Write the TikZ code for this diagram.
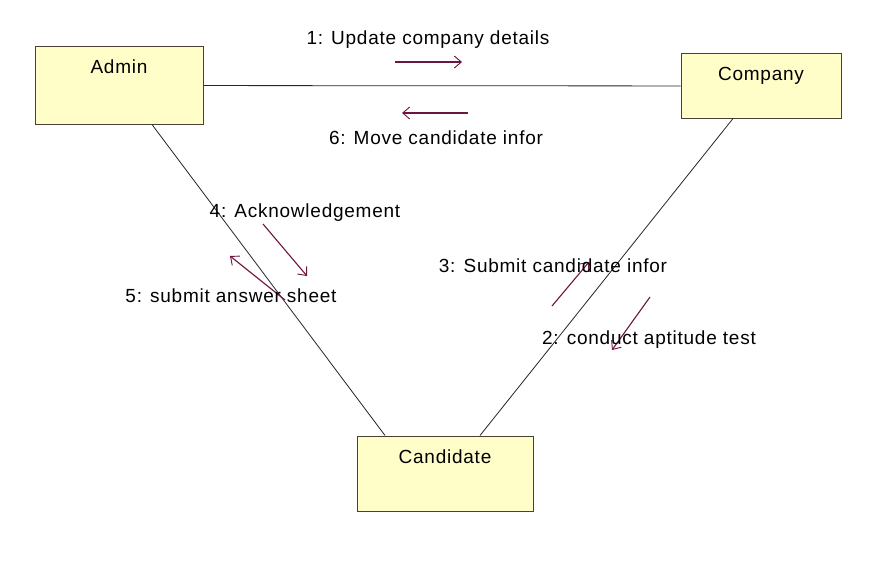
\documentclass[tikz,border=0pt]{standalone}
\usepackage{fontspec}
\setmainfont{Liberation Sans}[LetterSpace=4]
\usetikzlibrary{arrows.meta}
\definecolor{boxfill}{HTML}{FFFDC8}
\definecolor{boxline}{HTML}{4A3F35}
\definecolor{msgcol}{HTML}{6E1440}
\tikzset{
  box/.style={draw=boxline, line width=1pt, fill=boxfill, inner sep=0pt, text height=27pt, font=\fontsize{19}{22}\selectfont},
  link/.style={draw=black!85, line width=0.8pt},
  msg/.style={draw=msgcol, line width=1.1pt, -{Straight Barb[length=7pt,width=12pt,line width=0.9pt]}},
  lbl/.style={font=\fontsize{19}{22}\selectfont, inner sep=0pt}
}
\begin{document}
\begin{tikzpicture}[x=1pt,y=-1pt]
\useasboundingbox (0,0) rectangle (885,578);
\fill[white] (0,0) rectangle (885,578);
% boxes
\node[box, minimum width=168pt, minimum height=77pt, text depth=50pt] (admin) at (119,85.5) {Admin};
\node[box, minimum width=160pt, minimum height=64pt, text depth=37pt] (company) at (761,86) {Company};
\node[box, minimum width=176pt, minimum height=73pt, text depth=48pt] (cand) at (445,473.5) {Candidate};
% links
\draw[link] (admin) -- (company);
\draw[link] ([xshift=33pt]admin.south) -- ([xshift=-60pt]cand.north);
\draw[link] ([xshift=-28pt]company.south) -- ([xshift=35pt]cand.north);
% message arrows
\coordinate (m1a) at (395,62); \coordinate (m1b) at (462,62);
\coordinate (m6a) at (468,113); \coordinate (m6b) at (402,113);
\coordinate (m4a) at (263,224); \coordinate (m4b) at (307,276);
\coordinate (m5a) at (285,300); \coordinate (m5b) at (230,256);
\coordinate (m3a) at (552,306); \coordinate (m3b) at (589,262);
\coordinate (m2a) at (650,297); \coordinate (m2b) at (612,350);
\draw[msg] (m1a) -- (m1b);
\draw[msg] (m6a) -- (m6b);
\draw[msg] (m4a) -- (m4b);
\draw[msg] (m5a) -- (m5b);
\draw[msg] (m3a) -- (m3b);
\draw[msg] (m2a) -- (m2b);
% labels
\node[lbl] (l1) at (428,40) {1: Update company details};
\node[lbl] (l6) at (436,138) {6: Move candidate infor};
\node[lbl] (l4) at (305,213) {4: Acknowledgement};
\node[lbl] (l5) at (231,296) {5: submit answer sheet};
\node[lbl] (l3) at (553,266) {3: Submit candidate infor};
\node[lbl] (l2) at (649,340) {2: conduct aptitude test};
\end{tikzpicture}
\end{document}
